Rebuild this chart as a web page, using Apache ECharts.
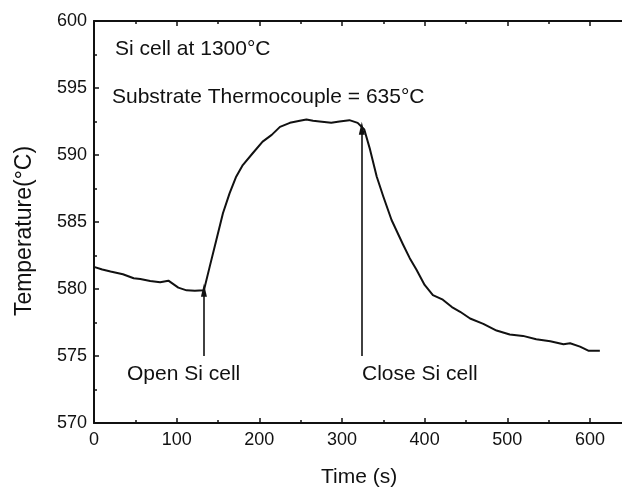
<!DOCTYPE html>
<html>
<head>
<meta charset="utf-8">
<script src="https://cdn.jsdelivr.net/npm/echarts@6/dist/echarts.min.js"></script>
<style>html,body{margin:0;padding:0;background:#fff}#c{width:622px;height:490px}</style>
</head>
<body>
<div id="c"></div>
<script>
var times = [0,10,20,35,48,56,68,80,90,102,112,122,133,140,148,156,164,172,180,192,204,215,225,237,249,257,265,273,287,297,309,319,327,334,342,350,360,374,382,390,400,410,422,433,443,455,471,487,503,519,535,552,568,576,588,598,612];
var temps = [581.65,581.45,581.3,581.1,580.8,580.75,580.6,580.5,580.62,580.1,579.9,579.87,579.9,581.67,583.66,585.65,587.14,588.38,589.25,590.13,591.0,591.5,592.1,592.4,592.55,592.65,592.55,592.5,592.4,592.5,592.6,592.4,591.9,590.4,588.4,586.9,585.15,583.3,582.3,581.45,580.3,579.55,579.2,578.65,578.3,577.8,577.4,576.9,576.6,576.5,576.25,576.1,575.87,575.95,575.7,575.4,575.4];
var openArrow = [[133,575],[133,579.9]];
var closeArrow = [[324,575],[324,592.0]];
var xTicks = {min:0,max:640,interval:100};
var yTicks = {min:570,max:600,interval:5};

var FONT = "'Liberation Sans', Arial, Helvetica, sans-serif";
var chart = echarts.init(document.getElementById('c'));
var data = times.map(function(t,i){return [t,temps[i]];});
function axisCommon(){
  return {
    axisLine:{show:true,onZero:false,lineStyle:{color:'#111',width:2}},
    axisTick:{show:true,inside:true,length:5,lineStyle:{color:'#111',width:1.5}},
    minorTick:{show:true,splitNumber:2,length:3,lineStyle:{color:'#111',width:1.5}},
    splitLine:{show:false}
  };
}
var xb = Object.assign(axisCommon(),{type:'value',position:'bottom',min:xTicks.min,max:xTicks.max,interval:xTicks.interval,
  axisLabel:{fontSize:18,color:'#111',fontFamily:FONT,margin:8,showMaxLabel:false}});
var xt = Object.assign(axisCommon(),{type:'value',position:'top',min:xTicks.min,max:xTicks.max,interval:xTicks.interval,
  axisLabel:{show:false}});
var yl = Object.assign(axisCommon(),{type:'value',position:'left',min:yTicks.min,max:yTicks.max,interval:yTicks.interval,
  axisLabel:{fontSize:18,color:'#111',fontFamily:FONT,margin:7}});
chart.setOption({
  animation:false,
  backgroundColor:'#fff',
  grid:{left:94,top:21,width:529,height:402,outerBoundsMode:'none',containLabel:false},
  xAxis:[xb,xt],
  yAxis:[yl],
  series:[{
    type:'line',data:data,showSymbol:false,symbol:'none',
    lineStyle:{color:'#111',width:2,join:'round'},
    markLine:{
      silent:true,symbol:['none','triangle'],symbolSize:[6,13],
      label:{show:false},
      lineStyle:{color:'#111',width:1.6,type:'solid'},
      data:[
        [{coord:openArrow[0]},{coord:openArrow[1]}],
        [{coord:closeArrow[0]},{coord:closeArrow[1]}]
      ]
    }
  }],
  graphic:[
    {type:'text',left:115,top:39,style:{text:'Si cell at 1300°C',font:'21px '+FONT,fill:'#111'}},
    {type:'text',left:112,top:87,style:{text:'Substrate Thermocouple = 635°C',font:'21px '+FONT,fill:'#111'}},
    {type:'text',left:127,top:364,style:{text:'Open Si cell',font:'21px '+FONT,fill:'#111'}},
    {type:'text',left:362,top:364,style:{text:'Close Si cell',font:'21px '+FONT,fill:'#111'}},
    {type:'text',left:321,top:467,style:{text:'Time (s)',font:'21px '+FONT,fill:'#111'}},
    {type:'text',x:25,y:231,rotation:Math.PI/2,style:{text:'Temperature(°C)',font:'23px '+FONT,fill:'#111',align:'center',verticalAlign:'middle'}}
  ]
});
</script>
</body>
</html>
